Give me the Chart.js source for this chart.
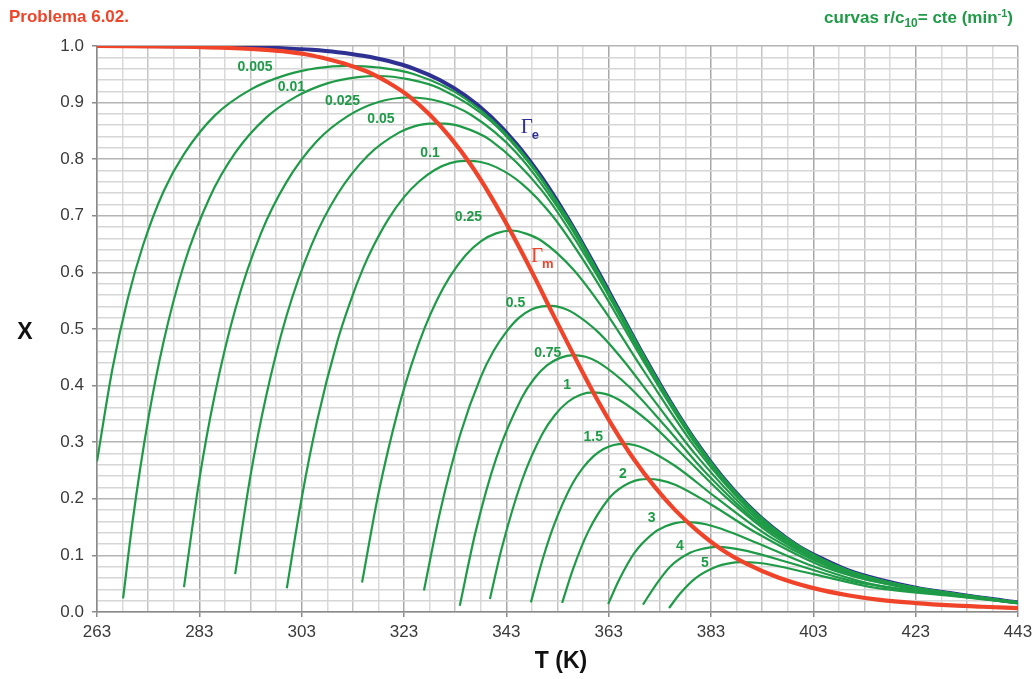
<!DOCTYPE html>
<html lang="es">
<head>
<meta charset="UTF-8">
<title>Problema 6.02.</title>
<script src="https://cdn.jsdelivr.net/npm/chart.js@4.4.0/dist/chart.umd.min.js"></script>
<style>
  html, body { margin: 0; padding: 0; background: #fff; }
  #wrap { position: relative; width: 1033px; height: 679px; }
</style>
</head>
<body>
<div id="wrap"><canvas id="chart"></canvas></div>
<script>
// curvas de velocidad constante r/c10 (min^-1): pares [T (K), X]
const rates = ['0.005', '0.01', '0.025', '0.05', '0.1', '0.25', '0.5', '0.75', '1', '1.5', '2', '3', '4', '5'];

const r0005 = [[263,0.266],[266,0.429],[269,0.553],[272,0.648],[276,0.743],[280,0.809],[286,0.877],[293,0.923],[300,0.949],[306,0.961],[312,0.965],[318,0.962],[325,0.95],[335,0.907],[345,0.824],[355,0.695],[365,0.533],[375,0.372],[385,0.241],[395,0.1493],[405,0.0915],[410,0.0725],[420,0.0478],[430,0.0328],[443,0.0169]];
const r001 = [[268.1,0.024],[270,0.163],[273,0.34],[276,0.477],[280,0.614],[285,0.732],[290,0.811],[296,0.873],[302,0.911],[308,0.934],[314,0.945],[318,0.947],[324,0.941],[330,0.925],[340,0.867],[350,0.762],[360,0.614],[370,0.449],[380,0.301],[390,0.1902],[400,0.1166],[410,0.0725],[420,0.0478],[430,0.0328],[443,0.0169]];
const r0025 = [[280,0.044],[283,0.234],[286,0.383],[290,0.534],[295,0.668],[300,0.759],[306,0.832],[312,0.876],[318,0.901],[324,0.909],[330,0.902],[336,0.879],[345,0.811],[355,0.688],[365,0.53],[375,0.37],[385,0.24],[395,0.149],[405,0.091],[410,0.0724],[420,0.0477],[430,0.0328],[443,0.0169]];
const r005 = [[290,0.067],[293,0.241],[296,0.379],[300,0.522],[305,0.65],[310,0.738],[316,0.807],[322,0.847],[325,0.858],[328,0.863],[331,0.863],[334,0.858],[340,0.833],[350,0.744],[360,0.606],[370,0.445],[380,0.299],[390,0.1896],[400,0.1164],[410,0.0724],[420,0.0476],[430,0.0328],[443,0.0169]];
const r01 = [[300.1,0.042],[303,0.201],[306,0.337],[310,0.479],[312.5,0.548],[315,0.607],[317,0.646],[320,0.695],[323,0.733],[326,0.761],[329,0.781],[332,0.793],[335,0.797],[338,0.795],[341,0.786],[346,0.757],[352,0.70],[360,0.594],[370,0.44],[380,0.297],[390,0.1885],[400,0.1159],[410,0.0722],[420,0.0475],[430,0.0327],[443,0.0168]];
const r025 = [[314.8,0.052],[318,0.209],[322,0.362],[324.5,0.438],[327,0.501],[329.5,0.552],[332,0.593],[335,0.63],[338,0.655],[341,0.669],[344,0.674],[347,0.668],[350,0.655],[356,0.606],[362,0.535],[370,0.424],[380,0.29],[390,0.1856],[400,0.1147],[410,0.0718],[420,0.0474],[430,0.0327],[443,0.0168]];
const r05 = [[326.9,0.038],[330,0.175],[334,0.314],[338,0.415],[340.5,0.461],[343,0.495],[345.5,0.52],[348,0.535],[350,0.54],[352,0.541],[354,0.537],[356,0.529],[361,0.494],[366,0.443],[372,0.372],[380,0.278],[390,0.1805],[400,0.1125],[410,0.0711],[420,0.0471],[430,0.0326],[443,0.0168]];
const r075 = [[333.9,0.011],[337,0.142],[341,0.271],[346,0.378],[348.5,0.413],[351,0.436],[353.5,0.449],[356,0.454],[358.5,0.451],[361,0.441],[367,0.398],[374,0.329],[382,0.246],[392,0.16],[405,0.087],[410,0.0702],[420,0.0467],[430,0.0323],[443,0.0168]];
const r1 = [[339.8,0.023],[342,0.109],[346,0.231],[350,0.314],[352.5,0.348],[355,0.371],[357.5,0.384],[360,0.388],[362.5,0.385],[365,0.375],[371,0.335],[378,0.273],[386,0.202],[396,0.13],[410,0.068],[420,0.0463],[430,0.0321],[443,0.0167]];
const r15 = [[347.8,0.017],[350,0.09],[352,0.146],[354,0.191],[356,0.228],[358,0.255],[360,0.275],[362,0.288],[364,0.295],[366,0.297],[368,0.295],[370,0.289],[376,0.258],[384,0.202],[395,0.13],[410,0.066],[420,0.0454],[430,0.0317],[443,0.0166]];
const r2 = [[353.9,0.016],[356,0.075],[359,0.142],[363,0.2],[365,0.217],[367,0.228],[369,0.234],[371,0.235],[373,0.233],[376,0.225],[383,0.19],[392,0.139],[405,0.08],[420,0.0445],[430,0.0313],[443,0.0164]];
const r3 = [[362.9,0.014],[365,0.056],[368,0.104],[372,0.141],[374,0.151],[376,0.157],[378,0.159],[380,0.158],[382,0.155],[385,0.147],[392,0.122],[402,0.084],[415,0.048],[430,0.0304],[443,0.0161]];
const r4 = [[369.7,0.013],[372,0.045],[375,0.08],[379,0.105],[381.5,0.112],[384,0.115],[387,0.113],[390,0.108],[398,0.088],[410,0.056],[420,0.0409],[430,0.0295],[443,0.0158]];
const r5 = [[374.8,0.007],[377,0.033],[380,0.06],[384,0.08],[386.5,0.086],[389,0.088],[392,0.087],[395,0.083],[403,0.067],[415,0.043],[430,0.0286],[443,0.0155]];

// curva de equilibrio (Gamma e) y lugar de velocidades maximas (Gamma m)
const gammaE = [[263,1.0],[285,0.9991],[295,0.9975],[300,0.9958],[305,0.9932],[310,0.9891],[315,0.9828],[320,0.9735],[325,0.9597],[330,0.9399],[335,0.9123],[340,0.8752],[345,0.8269],[350,0.7669],[355,0.6961],[360,0.617],[365,0.5335],[370,0.4504],[375,0.3722],[380,0.3017],[385,0.2411],[390,0.1906],[395,0.1495],[400,0.1168],[405,0.093],[410,0.073],[416,0.057],[423,0.043],[430,0.033],[436,0.025],[443,0.017]];
const gammaM = [[263,1.0],[280,0.999],[290,0.996],[296,0.993],[300,0.99],[304,0.985],[308,0.977],[312,0.967],[316,0.954],[320,0.935],[324,0.911],[328,0.879],[332,0.839],[336,0.791],[340,0.734],[344,0.67],[348,0.601],[352,0.528],[356,0.457],[360,0.388],[364,0.325],[368,0.269],[372,0.221],[376,0.18],[380,0.146],[385,0.111],[390,0.085],[396,0.0614],[403,0.0422],[410,0.0292],[416,0.0215],[423,0.0158],[430,0.0117],[436,0.0093],[443,0.007]];

// donde van las etiquetas de cada curva [T, X]
const rateLabelAt = [[293.9,0.962],[301,0.927],[311,0.902],[318.5,0.870],[328.1,0.81],[335.6,0.697],[344.8,0.546],[351.1,0.458],[354.9,0.40],[360,0.309],[365.8,0.244],[371.4,0.166],[376.9,0.117],[381.8,0.087]];
const gammaELabelAt = [347.0, 0.856];
const gammaMLabelAt = [349.0, 0.628];

const xTicks = [];
for (let t = 263; t <= 443; t += 5) xTicks.push(t);
const yTicks = [];
for (let i = 0; i <= 50; i++) yTicks.push(i / 50);

const GREEN = '#1f9b48';
const RED = '#f0442a';
const BLUE = '#2e3192';
const SANS = '"Liberation Sans", Arial, sans-serif';

const rateSeries = [r0005, r001, r0025, r005, r01, r025, r05, r075, r1, r15, r2, r3, r4, r5];

const datasets = [{
  label: 'Gamma m',
  data: gammaM,
  borderColor: RED,
  borderWidth: 4.2
}];
rateSeries.forEach((s, i) => datasets.push({
  label: rates[i],
  data: s,
  borderColor: GREEN,
  borderWidth: 2.2
}));
datasets.push({
  label: 'Gamma e',
  data: gammaE,
  borderColor: BLUE,
  borderWidth: 4
});
datasets.forEach(d => {
  d.pointRadius = 0;
  d.fill = false;
  d.cubicInterpolationMode = 'monotone';
});

function drawGamma(ctx, sub, color, x, y) {
  ctx.fillStyle = color;
  ctx.textAlign = 'center';
  ctx.textBaseline = 'middle';
  ctx.font = '21px "Liberation Serif", "Times New Roman", serif';
  ctx.fillText('\u0393', x, y);
  ctx.font = 'bold 13px ' + SANS;
  ctx.textAlign = 'left';
  ctx.fillText(sub, x + 5, y + 8);
}

const textPlugin = {
  id: 'texts',
  afterDatasetsDraw(chart) {
    const ctx = chart.ctx, xs = chart.scales.x, ys = chart.scales.y;
    ctx.save();
    ctx.fillStyle = GREEN;
    ctx.textAlign = 'center';
    ctx.textBaseline = 'middle';
    ctx.font = 'bold 14px ' + SANS;
    rates.forEach((r, i) => {
      ctx.fillText(r, xs.getPixelForValue(rateLabelAt[i][0]), ys.getPixelForValue(rateLabelAt[i][1]));
    });
    drawGamma(ctx, 'e', BLUE, xs.getPixelForValue(gammaELabelAt[0]), ys.getPixelForValue(gammaELabelAt[1]));
    drawGamma(ctx, 'm', RED, xs.getPixelForValue(gammaMLabelAt[0]), ys.getPixelForValue(gammaMLabelAt[1]));
    ctx.restore();
  },
  afterDraw(chart) {
    const ctx = chart.ctx, area = chart.chartArea;
    ctx.save();
    ctx.textBaseline = 'alphabetic';

    // titulo
    ctx.fillStyle = RED;
    ctx.textAlign = 'left';
    ctx.font = 'bold 17px ' + SANS;
    ctx.fillText('Problema 6.02.', 9, 22);

    // leyenda de las curvas, arriba a la derecha
    const parts = [
      ['curvas r/c', 17, 0],
      ['10', 12, 4],
      ['= cte (min', 17, 0],
      ['-1', 11, -6],
      [')', 17, 0]
    ];
    let total = 0;
    parts.forEach(p => { ctx.font = 'bold ' + p[1] + 'px ' + SANS; total += ctx.measureText(p[0]).width; });
    let x = area.right - 5 - total;
    ctx.fillStyle = GREEN;
    parts.forEach(p => {
      ctx.font = 'bold ' + p[1] + 'px ' + SANS;
      ctx.fillText(p[0], x, 23 + p[2]);
      x += ctx.measureText(p[0]).width;
    });

    // titulos de ejes
    ctx.fillStyle = '#111';
    ctx.textAlign = 'center';
    ctx.textBaseline = 'middle';
    ctx.font = 'bold 23px ' + SANS;
    ctx.fillText('X', 25, (area.top + area.bottom) / 2 + 4);
    ctx.fillText('T (K)', 561, 662);
    ctx.restore();
  }
};

new Chart(document.getElementById('chart'), {
  type: 'line',
  data: { datasets: datasets },
  options: {
    responsive: true,
    maintainAspectRatio: false,
    animation: false,
    events: [],
    layout: { padding: { top: 46, right: 15, left: 0, bottom: 0 } },
    plugins: {
      legend: { display: false },
      title: { display: false },
      tooltip: { enabled: false }
    },
    scales: {
      x: {
        type: 'linear',
        min: 263,
        max: 443,
        afterBuildTicks: axis => { axis.ticks = xTicks.map(v => ({ value: v })); },
        afterFit: axis => {
          axis.height = 67;
          axis.paddingLeft = 0;
          axis.paddingRight = 0;
        },
        ticks: {
          autoSkip: false,
          maxRotation: 0,
          padding: 5,
          color: '#3a3a3a',
          font: { family: SANS, size: 17 },
          callback: v => ((v - 263) % 20 === 0 ? String(v) : '')
        },
        grid: {
          lineWidth: 1.5,
          tickLength: 5,
          color: c => {
            const d = c.tick ? c.tick.value - 263 : 0;
            if (d % 20 === 0) return '#a8a8a8';
            if (d % 10 === 0) return '#c4c4c4';
            return '#dadada';
          },
          tickColor: c => (c.tick && (c.tick.value - 263) % 20 === 0 ? '#8a8a8a' : 'rgba(0,0,0,0)')
        },
        border: { color: '#8a8a8a', width: 1.5 }
      },
      y: {
        type: 'linear',
        min: 0,
        max: 1,
        afterBuildTicks: axis => { axis.ticks = yTicks.map(v => ({ value: v })); },
        afterFit: axis => { axis.width = 97; },
        ticks: {
          autoSkip: false,
          padding: 8,
          color: '#3a3a3a',
          font: { family: SANS, size: 17 },
          callback: v => (Math.round(v * 50) % 5 === 0 ? v.toFixed(1) : '')
        },
        grid: {
          lineWidth: 1.5,
          tickLength: 5,
          color: c => (c.tick && Math.round(c.tick.value * 50) % 5 === 0 ? '#b4b4b4' : '#d6d6d6'),
          tickColor: c => (c.tick && Math.round(c.tick.value * 50) % 5 === 0 ? '#8a8a8a' : 'rgba(0,0,0,0)')
        },
        border: { color: '#8a8a8a', width: 1.5 }
      }
    }
  },
  plugins: [textPlugin]
});
</script>
</body>
</html>
